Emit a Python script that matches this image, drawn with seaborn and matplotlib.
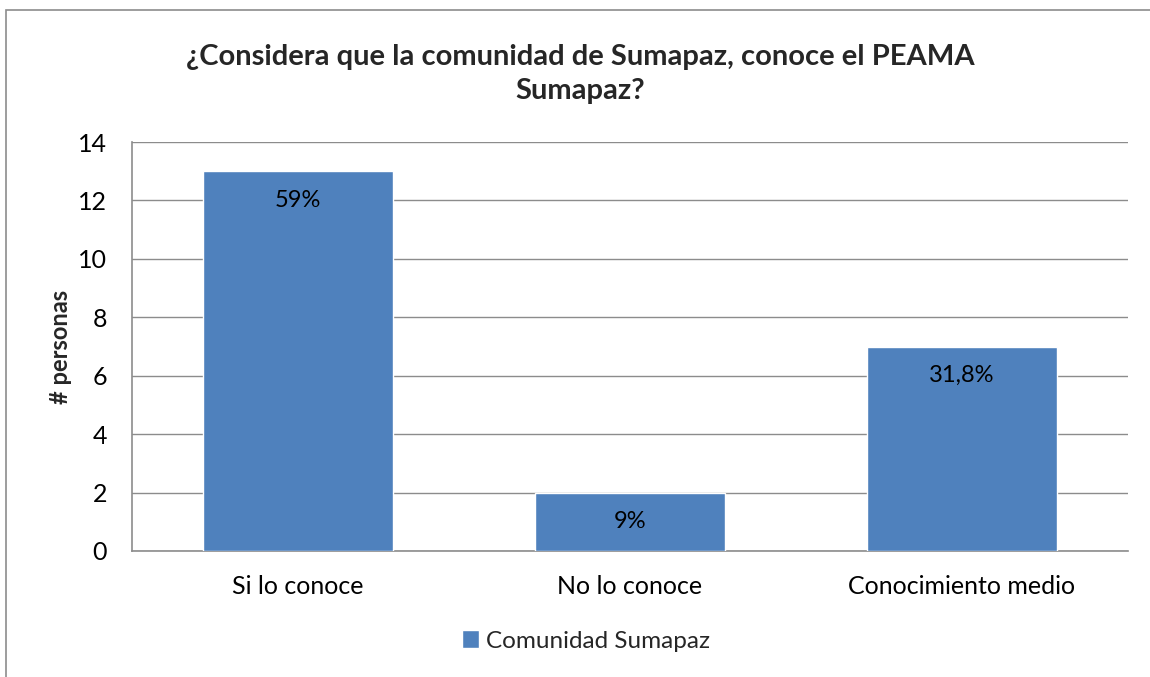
import pandas as pd
import seaborn as sns
import matplotlib.pyplot as plt
from matplotlib.patches import Rectangle

categorias = ["Si lo conoce", "No lo conoce", "Conocimiento medio"]
personas = [13, 2, 7]
etiquetas = ["59%", "9%", "31,8%"]
serie = "Comunidad Sumapaz"

df = pd.DataFrame({"categoria": categorias, "personas": personas, "serie": serie})

sns.set_style("white")
plt.rcParams["font.family"] = ["Lato", "DejaVu Sans"]

fig = plt.figure(figsize=(11.5, 6.77), dpi=100)
ax = fig.add_axes([132 / 1150, 1 - 551 / 677, (1128 - 132) / 1150, (551 - 142) / 677])

sns.barplot(data=df, x="categoria", y="personas", hue="serie",
            palette=["#4F81BD"], width=0.57, ax=ax, saturation=1, zorder=3)

# etiquetas de porcentaje dentro de cada barra
for i, (v, t) in enumerate(zip(personas, etiquetas)):
    ax.text(i, v - 1, t, ha="center", va="center", fontsize=17, color="black", zorder=4)

ax.set_ylim(0, 14)
ax.set_yticks(range(0, 15, 2))
ax.yaxis.grid(True, color="#8c8c8c", linewidth=1, zorder=0)
for s in ["top", "right"]:
    ax.spines[s].set_visible(False)
for s in ["left", "bottom"]:
    ax.spines[s].set_color("#8c8c8c")
    ax.spines[s].set_linewidth(1.2)
ax.tick_params(axis="both", labelsize=18, length=0, colors="black")
ax.tick_params(axis="x", pad=17)
ax.tick_params(axis="y", pad=18)
ax.set_xlabel("")
ax.set_ylabel("# personas", fontsize=17, fontweight="bold", labelpad=4)

fig.text(580 / 1150, 1 - 74 / 677,
         "¿Considera que la comunidad de Sumapaz, conoce el PEAMA\nSumapaz?",
         ha="center", va="center", fontsize=21, fontweight="bold", linespacing=1.4)

ax.legend(loc="center", bbox_to_anchor=(586 / 1150, 1 - 641 / 677),
          bbox_transform=fig.transFigure, frameon=False, fontsize=17.5,
          handlelength=0.7, handleheight=0.7, handletextpad=0.3)

fig.patches.append(Rectangle((6 / 1150, -0.1), 1.2, 1 - 10 / 677 + 0.1,
                             transform=fig.transFigure, fill=False,
                             edgecolor="#8c8c8c", linewidth=1.2))

fig.savefig("out.png", dpi=100)
